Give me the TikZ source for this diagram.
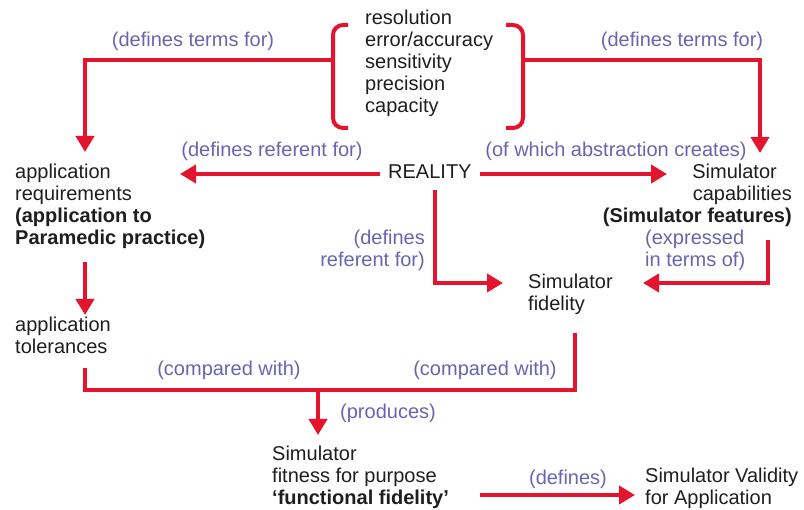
\documentclass[tikz,border=0pt]{standalone}
\usepackage{fontspec}
\setmainfont{Liberation Sans}
\usetikzlibrary{arrows.meta}
\definecolor{lred}{HTML}{E5142E}
\definecolor{lpurp}{HTML}{6A64B0}
\definecolor{ltext}{HTML}{1E1E1E}
\tikzset{
  txt/.style={inner sep=0pt, text=ltext, font=\fontsize{20}{22}\selectfont, align=left},
  lbl/.style={inner sep=0pt, text=lpurp, font=\fontsize{20}{22}\selectfont},
  conn/.style={draw=lred, line width=4pt},
  arr/.style={conn, -{Triangle[length=16pt,width=18pt]}},
}
\begin{document}
\begin{tikzpicture}[x=1pt,y=-1pt]
\useasboundingbox (0,0) rectangle (804,510);
% nodes (anchor base = baseline of last line)
\node[txt, anchor=base west] (list) at (365,113) {resolution\\error/accuracy\\sensitivity\\precision\\capacity};
\node[txt, anchor=base west] (reality) at (388,179) {REALITY};
\node[txt, anchor=base west] (req) at (15,245) {application\\requirements\\\textbf{(application to}\\\textbf{Paramedic practice)}};
\node[txt, anchor=base east, align=right] (cap) at (792,223) {Simulator\rule{15pt}{0pt}\\capabilities\\\textbf{(Simulator features)}};
\node[txt, anchor=base west] (fid) at (528,311) {Simulator\\fidelity};
\node[txt, anchor=base west] (tol) at (15,354) {application\\tolerances};
\node[txt, anchor=base west] (fit) at (272,505) {Simulator\\fitness for purpose\\\textbf{‘functional fidelity’}};
\node[txt, anchor=base west] (val) at (645,505) {Simulator Validity\\for Application};
% labels
\node[lbl, anchor=base] (l1) at (193,47) {(defines terms for)};
\node[lbl, anchor=base] (l2) at (682,47) {(defines terms for)};
\node[lbl, anchor=base] (l3) at (272,157) {(defines referent for)};
\node[lbl, anchor=base] (l4) at (616,157) {(of which abstraction creates)};
\node[lbl, anchor=base east, align=right] (l5) at (425,267) {(defines\\referent for)};
\node[lbl, anchor=base west, align=left] (l6) at (645,267) {(expressed\\in terms of)};
\node[lbl, anchor=base] (l7) at (229,376) {(compared with)};
\node[lbl, anchor=base] (l8) at (485,376) {(compared with)};
\node[lbl, anchor=base west] (l9) at (340,419) {(produces)};
\node[lbl, anchor=base] (l10) at (568,485) {(defines)};
% coordinates
\coordinate (lbm) at (333,60);
\coordinate (rbm) at (523,60);
\coordinate (reqtop) at (85,152);
\coordinate (captop) at (760,153);
\coordinate (realW) at (380,174);
\coordinate (reqE) at (180,174);
\coordinate (realE) at (480,174);
\coordinate (capW) at (667,174);
\coordinate (realS) at (435,190);
\coordinate (fidW) at (503,283);
\coordinate (capS) at (768,240);
\coordinate (fidE) at (643,283);
\coordinate (reqS) at (85,262);
\coordinate (tolN) at (85,315);
\coordinate (tolS) at (85,368);
\coordinate (fidS) at (575,333);
\coordinate (join) at (318,390);
\coordinate (fitN) at (318,435);
\coordinate (fitE) at (480,495);
\coordinate (valW) at (635,495);
% braces
\draw[conn, rounded corners=10pt] (348,25) -- (lbm |- 0,25) -- (lbm |- 0,128) -- (348,128);
\draw[conn, rounded corners=10pt] (506,25) -- (rbm |- 0,25) -- (rbm |- 0,128) -- (506,128);
% connectors
\draw[arr] (lbm) -| (reqtop);
\draw[arr] (rbm) -| (captop);
\draw[arr] (realW) -- (reqE);
\draw[arr] (realE) -- (capW);
\draw[arr] (realS) |- (fidW);
\draw[arr] (capS) |- (fidE);
\draw[arr] (reqS) -- (tolN);
\draw[conn] (tolS) |- (fidS |- join) -- (fidS);
\draw[arr] (join) -- (fitN);
\draw[arr] (fitE) -- (valW);
\end{tikzpicture}
\end{document}
